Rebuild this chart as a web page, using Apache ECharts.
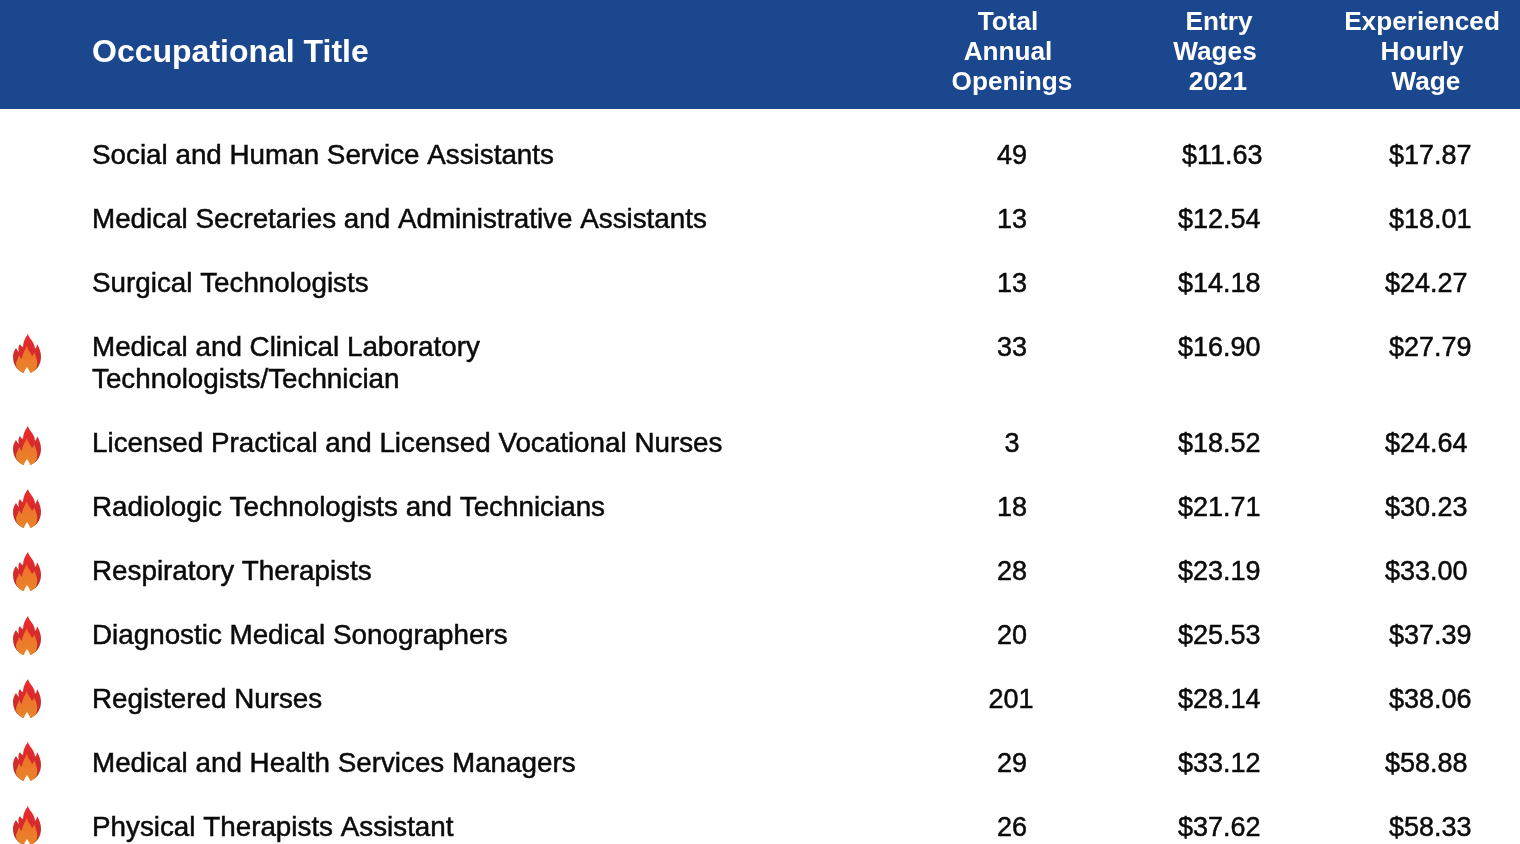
<!DOCTYPE html>
<html>
<head>
<meta charset="utf-8">
<style>
html,body{margin:0;padding:0;background:#fff;overflow:hidden}
#main{width:1520px;height:844px}
</style>
<script src="https://cdn.jsdelivr.net/npm/echarts@6/dist/echarts.min.js"></script>
</head>
<body>
<div id="main"></div>
<script>
// table contents
var titles = [
    'Social and Human Service Assistants',
    'Medical Secretaries and Administrative Assistants',
    'Surgical Technologists',
    'Medical and Clinical Laboratory\nTechnologists/Technician',
    'Licensed Practical and Licensed Vocational Nurses',
    'Radiologic Technologists and Technicians',
    'Respiratory Therapists',
    'Diagnostic Medical Sonographers',
    'Registered Nurses',
    'Medical and Health Services Managers',
    'Physical Therapists Assistant'
];
var openings = [49, 13, 13, 33, 3, 18, 28, 20, 201, 29, 26];
var entryWages = ['$11.63', '$12.54', '$14.18', '$16.90', '$18.52', '$21.71', '$23.19', '$25.53', '$28.14', '$33.12', '$37.62'];
var expWages = ['$17.87', '$18.01', '$24.27', '$27.79', '$24.64', '$30.23', '$33.00', '$37.39', '$38.06', '$58.88', '$58.33'];
var hot = [false, false, false, true, true, true, true, true, true, true, true];
var headTitle = 'Occupational Title';
var headOpenings = ['Total', 'Annual', 'Openings'];
var headEntry = ['Entry', 'Wages', '2021'];
var headExp = ['Experienced', 'Hourly', 'Wage'];

var fontName = '"Liberation Sans", Arial, sans-serif';
var rowTop = 155, rowStep = 64, tallExtra = 32;
// the source is a slide, its numbers are not quite lined up
var openX = [1012, 1012, 1012, 1012, 1012, 1012, 1012, 1012, 1011, 1012, 1012];
var entryX = [1182, 1178, 1178, 1178, 1178, 1178, 1178, 1178, 1178, 1178, 1178];
var expX = [1389, 1389, 1385, 1389, 1385, 1385, 1385, 1389, 1389, 1385, 1389];
var flameY = [0, 0, 0, 354, 446, 509, 572, 636, 699, 762, 826];
var headCenters = [[1008, 1008, 1012], [1219, 1215, 1218], [1422, 1422, 1426]];

var flameOuter = 'M1,-20C2,-15 8,-12 8,-5C9,-6 10,-8 10,-10C13,-5 14,-1 14,3C14,12 8,19 0,19C-8,19 -14,12 -14,3C-14,-1 -13,-3 -11,-6C-10,-4 -9,-3 -8,-2C-9,-5 -9,-7 -7,-10C-6,-8 -5,-7 -4,-7C-4,-12 -2,-16 1,-20Z';
var flameInner = 'M0,-8C1,-3 4,-1 5,2C6,1 7,0 7,-2C9,3 11,7 10,11C10,14 8,17 4,19L-4,19C-8,17 -11,14 -11,10C-11,7 -9,5 -8,1C-7,3 -6,4 -5,5C-5,1 -2,-4 0,-8Z';
var flameHole = 'M0,13C1,15 3,17 3,19L-3,19C-3,17 -1,15 0,13Z';

var rows = titles.map(function (t, i) {
    return [i];
});

function rowY(i) {
    var y = rowTop + i * rowStep;
    if (i > 3) y += tallExtra;
    return y;
}

function cellText(api, x, y, text, align, size) {
    var p = api.coord([x, y]);
    return {
        type: 'text',
        x: p[0],
        y: p[1],
        style: {
            text: text,
            fill: '#0a0a0a',
            stroke: '#0a0a0a',
            lineWidth: 0.5,
            font: size + 'px ' + fontName,
            lineHeight: 32,
            align: align,
            verticalAlign: 'top'
        }
    };
}

function renderRow(params, api) {
    var i = api.value(0);
    var y = rowY(i) - 14;
    var kids = [
        cellText(api, 92, y - 1, titles[i], 'left', 27.8),
        cellText(api, openX[i], y, String(openings[i]), 'center', 27),
        cellText(api, entryX[i], y, entryWages[i], 'left', 27),
        cellText(api, expX[i], y, expWages[i], 'left', 27)
    ];
    if (hot[i]) {
        var p = api.coord([27, flameY[i]]);
        kids.push({
            type: 'path', x: p[0], y: p[1],
            shape: {pathData: flameOuter},
            style: {fill: {type: 'linear', x: 0, y: 0, x2: 0, y2: 1, colorStops: [{offset: 0, color: '#f22a2a'}, {offset: 1, color: '#b92b2e'}]}}
        });
        kids.push({
            type: 'path', x: p[0], y: p[1],
            shape: {pathData: flameInner},
            style: {fill: {type: 'linear', x: 0, y: 0, x2: 0, y2: 1, colorStops: [{offset: 0, color: '#f0702a'}, {offset: 1, color: '#e8842a'}]}}
        });
        kids.push({
            type: 'path', x: p[0], y: p[1],
            shape: {pathData: flameHole},
            style: {fill: '#fff'}
        });
    }
    return {type: 'group', children: kids};
}

function headColumn(lines, centers) {
    return lines.map(function (line, k) {
        return {
            type: 'text', x: centers[k], y: 10 + k * 30, z: 10,
            style: {
                text: line,
                fill: '#fff',
                font: 'bold 26.2px ' + fontName,
                align: 'center',
                verticalAlign: 'top'
            }
        };
    });
}

var myChart = echarts.init(document.getElementById('main'));
myChart.setOption({
    animation: false,
    backgroundColor: '#fff',
    grid: {left: 0, right: 0, top: 0, bottom: 0},
    xAxis: {type: 'value', min: 0, max: 1520, show: false},
    yAxis: {type: 'value', min: 0, max: 844, inverse: true, show: false},
    graphic: [
        {type: 'rect', shape: {x: 0, y: 0, width: 1520, height: 109}, style: {fill: '#1b478e'}, z: 5},
        {
            type: 'text', x: 92, y: 37, z: 10,
            style: {text: headTitle, fill: '#fff', font: 'bold 32px ' + fontName, align: 'left', verticalAlign: 'top'}
        }
    ].concat(headColumn(headOpenings, headCenters[0]), headColumn(headEntry, headCenters[1]), headColumn(headExp, headCenters[2])),
    series: [{
        type: 'custom',
        coordinateSystem: 'cartesian2d',
        clip: false,
        silent: true,
        renderItem: renderRow,
        encode: {x: 0},
        data: rows
    }]
});
</script>
</body>
</html>
